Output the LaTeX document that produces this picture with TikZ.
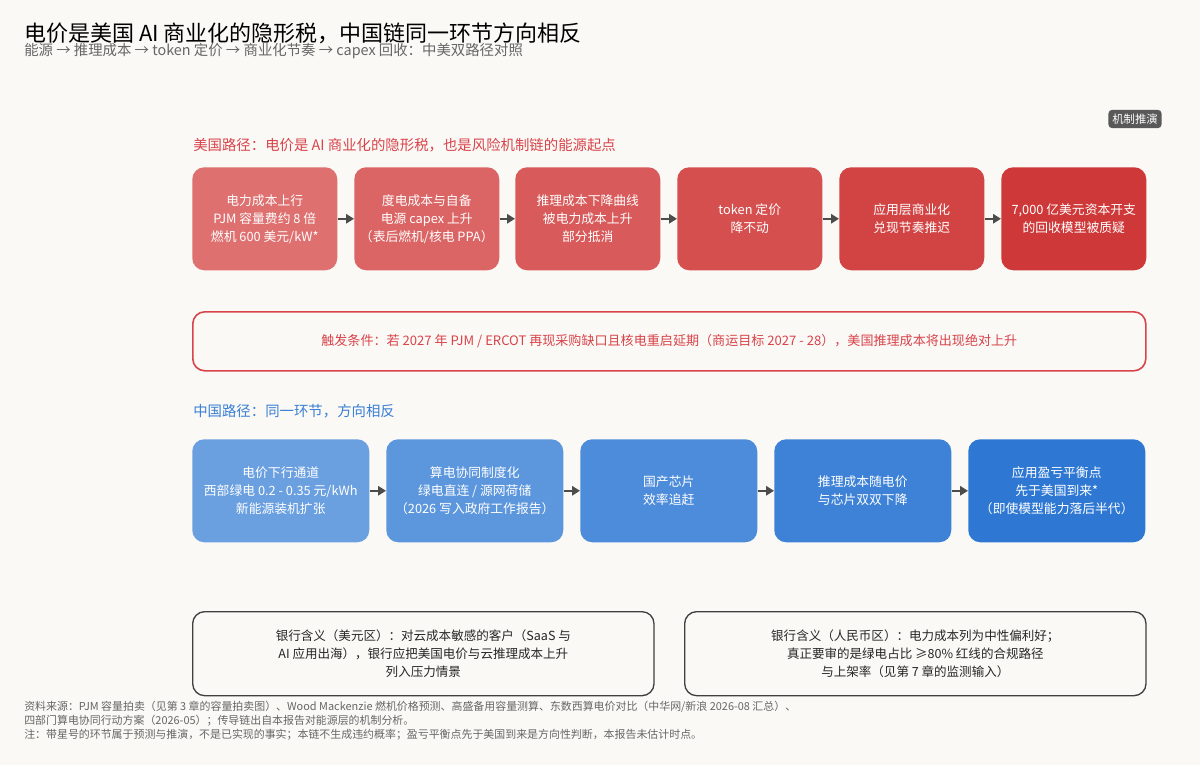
\documentclass[tikz,border=0pt]{standalone}
\usepackage{fontspec}
\setmainfont{Noto Sans CJK SC}
\usetikzlibrary{arrows.meta}
\begin{document}
\begin{tikzpicture}[x=0.75pt,y=-0.75pt,
 box/.style={rounded corners=9pt,text=white,align=center,font=\fontsize{9.6}{13.5}\selectfont,inner sep=0pt},
 arr/.style={-{Triangle[length=6pt,width=7pt]},draw=black!70,line width=1.6pt},
 bank/.style={draw=black!75,line width=1pt,rounded corners=9pt,fill=none,align=center,font=\fontsize{9.4}{13.5}\selectfont,text=black!85}]
\fill[fill={rgb,255:red,250;green,249;blue,246}] (0,0) rectangle (1200,765);
\node[anchor=west,font=\fontsize{16.5}{19}\selectfont,inner sep=0pt] (title) at (24,33) {电价是美国 AI 商业化的隐形税，中国链同一环节方向相反};
\node[anchor=west,font=\fontsize{10.8}{13}\selectfont,text=black!60,inner sep=0pt] (sub) at (24,51) {能源 → 推理成本 → token 定价 → 商业化节奏 → capex 回收：中美双路径对照};
\node[fill=black!65,text=white,rounded corners=3pt,font=\fontsize{8.5}{10}\selectfont,inner sep=3pt] (badge) at (1135,119) {机制推演};
\definecolor{rr}{RGB}{217,67,74}
\definecolor{bb}{RGB}{58,127,213}
\node[anchor=west,font=\fontsize{10.8}{13}\selectfont,text=rr,inner sep=0pt] (us) at (193,145) {美国路径：电价是 AI 商业化的隐形税，也是风险机制链的能源起点};
\definecolor{u1}{RGB}{222,112,112}
\definecolor{u2}{RGB}{219,101,101}
\definecolor{u3}{RGB}{216,90,90}
\definecolor{u4}{RGB}{213,79,79}
\definecolor{u5}{RGB}{210,68,68}
\definecolor{u6}{RGB}{207,56,56}
\foreach \i/\x/\c/\t in {1/192/u1/{电力成本上行\\PJM 容量费约 8 倍\\燃机 600 美元/kW*},
 2/354/u2/{度电成本与自备\\电源 capex 上升\\（表后燃机/核电 PPA）},
 3/515/u3/{推理成本下降曲线\\被电力成本上升\\部分抵消},
 4/677/u4/{token 定价\\降不动},
 5/839/u5/{应用层商业化\\兑现节奏推迟},
 6/1001/u6/{7,000 亿美元资本开支\\的回收模型被质疑}}
 \node[box,fill=\c,minimum width=108.75pt,minimum height=77.25pt,anchor=north west] (a\i) at (\x,167) {\t};
\foreach \i [count=\j from 2] in {1,...,5} \draw[arr] (a\i) -- (a\j);
\node[draw=rr,line width=1.2pt,rounded corners=9pt,minimum width=714.75pt,minimum height=44.25pt,anchor=north west,text=rr,font=\fontsize{9.8}{12}\selectfont,inner sep=0pt] (trig) at (192,311) {触发条件：若 2027 年 PJM / ERCOT 再现采购缺口且核电重启延期（商运目标 2027 - 28），美国推理成本将出现绝对上升};
\node[anchor=west,font=\fontsize{10.8}{13}\selectfont,text=bb,inner sep=0pt] (cn) at (193,411) {中国路径：同一环节，方向相反};
\definecolor{c1}{RGB}{106,159,224}
\definecolor{c2}{RGB}{92,150,221}
\definecolor{c3}{RGB}{77,140,218}
\definecolor{c4}{RGB}{62,130,215}
\definecolor{c5}{RGB}{46,120,212}
\foreach \i/\x/\c/\t in {1/192/c1/{电价下行通道\\西部绿电 0.2 - 0.35 元/kWh\\新能源装机扩张},
 2/386/c2/{算电协同制度化\\绿电直连 / 源网荷储\\（2026 写入政府工作报告）},
 3/580/c3/{国产芯片\\效率追赶},
 4/774/c4/{推理成本随电价\\与芯片双双下降},
 5/968/c5/{应用盈亏平衡点\\先于美国到来*\\（即使模型能力落后半代）}}
 \node[box,fill=\c,minimum width=132.75pt,minimum height=77.25pt,anchor=north west] (b\i) at (\x,439) {\t};
\foreach \i [count=\j from 2] in {1,...,4} \draw[arr] (b\i) -- (b\j);
\node[bank,minimum width=346pt,minimum height=63pt,anchor=north west] (k1) at (192,611) {银行含义（美元区）：对云成本敏感的客户（SaaS 与\\AI 应用出海），银行应把美国电价与云推理成本上升\\列入压力情景};
\node[bank,minimum width=346pt,minimum height=63pt,anchor=north west] (k2) at (684,611) {银行含义（人民币区）：电力成本列为中性偏利好；\\真正要审的是绿电占比 ≥80\% 红线的合规路径\\与上架率（见第 7 章的监测输入）};
\node[anchor=north west,align=left,font=\fontsize{8.2}{10.5}\selectfont,text=black!60,inner sep=0pt] (foot) at (24,701) {资料来源：PJM 容量拍卖（见第 3 章的容量拍卖图）、Wood Mackenzie 燃机价格预测、高盛备用容量测算、东数西算电价对比（中华网/新浪 2026-08 汇总）、\\四部门算电协同行动方案（2026-05）；传导链出自本报告对能源层的机制分析。\\注：带星号的环节属于预测与推演，不是已实现的事实；本链不生成违约概率；盈亏平衡点先于美国到来是方向性判断，本报告未估计时点。};
\end{tikzpicture}
\end{document}
